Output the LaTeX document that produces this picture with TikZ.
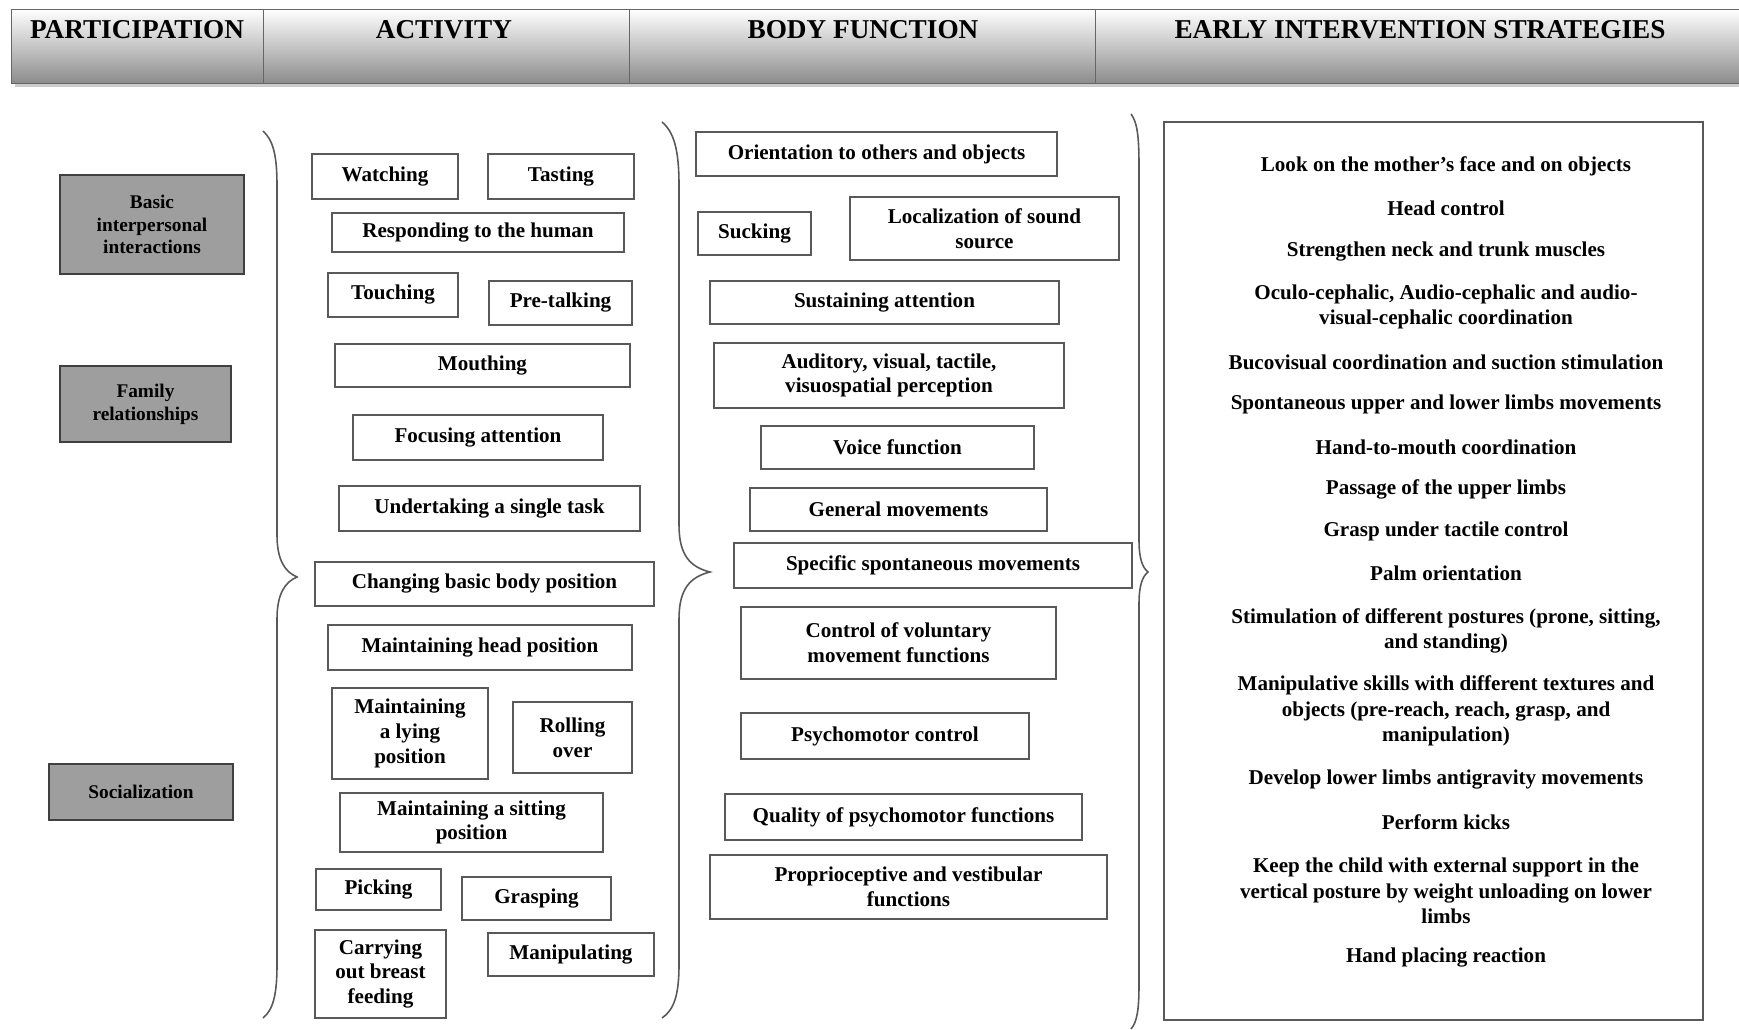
\documentclass[tikz,border=0pt]{standalone}
\usepackage{fontspec}
\setmainfont{Liberation Serif}
\begin{document}
\begin{tikzpicture}[x=0.02cm,y=-0.02cm,
			actbox/.style={draw=black!65, line width=0.8pt, align=center, inner sep=2pt, font=\bfseries\fontsize{12}{14}\selectfont},
			grpbox/.style={draw=black!75, fill=black!38, line width=1pt, align=center, font=\bfseries\fontsize{11}{13}\selectfont},
			hdr/.style={font=\bfseries\fontsize{15.5}{18}\selectfont},
			strat/.style={align=center, font=\bfseries\fontsize{12}{14.5}\selectfont},
			brace/.style={draw=black!65, line width=0.9pt}
		]
		\useasboundingbox (0,0) rectangle (1739,1030);

		\fill[black!20] (15,13) rectangle (1739,87);
		\path[top color=white, bottom color=black!45, draw=black!60] (11,9) rectangle (1739,83);
		\draw[black!60] (263,9) -- (263,83);
		\draw[black!60] (629,9) -- (629,83);
		\draw[black!60] (1095,9) -- (1095,83);
		\node[hdr] (hdrpart) at (137,30) {PARTICIPATION};
		\node[hdr] (hdract) at (444,30) {ACTIVITY};
		\node[hdr] (hdrbody) at (863,30) {BODY FUNCTION};
		\node[hdr] (hdrstrat) at (1420,30) {EARLY INTERVENTION STRATEGIES};

		\node[grpbox, minimum width=3.68cm, minimum height=1.98cm] (basic) at (152,224.5) {Basic\\interpersonal\\interactions};
		\node[grpbox, minimum width=3.42cm, minimum height=1.52cm] (family) at (145.5,404) {Family\\relationships};
		\node[grpbox, minimum width=3.68cm, minimum height=1.12cm] (social) at (141,792) {Socialization};

		\draw[brace] (263,131) .. controls (273,140) and (277,155) .. (277,185) -- (277,535) .. controls (277,560) and (285,572) .. (297,577) .. controls (285,582) and (277,594) .. (277,619) -- (277,965) .. controls (277,995) and (273,1010) .. (263,1018);
		\draw[brace] (662,122) .. controls (674,132) and (679,150) .. (679,185) -- (679,525) .. controls (679,555) and (690,567) .. (710,572) .. controls (690,577) and (679,589) .. (679,619) -- (679,965) .. controls (679,995) and (674,1010) .. (662,1018);
		\draw[brace] (1131,114) .. controls (1137,122) and (1139,135) .. (1139,165) -- (1139,540) .. controls (1139,560) and (1143,568) .. (1148,572) .. controls (1143,576) and (1139,584) .. (1139,604) -- (1139,985) .. controls (1139,1010) and (1137,1022) .. (1131,1029);

		\node[actbox, minimum width=2.92cm, minimum height=0.9cm] (watching) at (385,176.5) {Watching};
		\node[actbox, minimum width=2.92cm, minimum height=0.9cm] (tasting) at (561,176.5) {Tasting};
		\node[actbox, minimum width=5.84cm, minimum height=0.78cm] (responding) at (478,232.5) {Responding to the human};
		\node[actbox, minimum width=2.6cm, minimum height=0.88cm] (touching) at (393,295) {Touching};
		\node[actbox, minimum width=2.86cm, minimum height=0.88cm] (pretalking) at (560.5,303) {Pre-talking};
		\node[actbox, minimum width=5.9cm, minimum height=0.86cm] (mouthing) at (482.5,365.5) {Mouthing};
		\node[actbox, minimum width=5.0cm, minimum height=0.9cm] (focusing) at (478,437.5) {Focusing attention};
		\node[actbox, minimum width=6.02cm, minimum height=0.9cm] (undertaking) at (489.5,508.5) {Undertaking a single task};
		\node[actbox, minimum width=6.78cm, minimum height=0.88cm] (changing) at (484.5,584) {Changing basic body position};
		\node[actbox, minimum width=6.08cm, minimum height=0.9cm] (headpos) at (480,647.5) {Maintaining head position};
		\node[actbox, minimum width=3.12cm, minimum height=1.82cm] (lying) at (410,733.5) {Maintaining\\a lying\\position};
		\node[actbox, minimum width=2.38cm, minimum height=1.42cm] (rolling) at (572.5,737.5) {Rolling\\over};
		\node[actbox, minimum width=5.26cm, minimum height=1.18cm] (sitting) at (471.5,822.5) {Maintaining a sitting\\position};
		\node[actbox, minimum width=2.5cm, minimum height=0.82cm] (picking) at (378.5,889.5) {Picking};
		\node[actbox, minimum width=2.98cm, minimum height=0.86cm] (grasping) at (536.5,898.5) {Grasping};
		\node[actbox, minimum width=2.62cm, minimum height=1.76cm] (carrying) at (380.5,974) {Carrying\\out breast\\feeding};
		\node[actbox, minimum width=3.32cm, minimum height=0.86cm] (manipulating) at (571,954.5) {Manipulating};

		\node[actbox, minimum width=7.22cm, minimum height=0.88cm] (orient) at (876.5,154) {Orientation to others and objects};
		\node[actbox, minimum width=2.26cm, minimum height=0.86cm] (sucking) at (754.5,233.5) {Sucking};
		\node[actbox, minimum width=5.38cm, minimum height=1.26cm] (localize) at (984.5,228.5) {Localization of sound\\source};
		\node[actbox, minimum width=6.98cm, minimum height=0.86cm] (sustain) at (884.5,302.5) {Sustaining attention};
		\node[actbox, minimum width=7.0cm, minimum height=1.3cm] (percept) at (889,375.5) {Auditory, visual, tactile,\\visuospatial perception};
		\node[actbox, minimum width=5.46cm, minimum height=0.86cm] (voice) at (897.5,447.5) {Voice function};
		\node[actbox, minimum width=5.94cm, minimum height=0.86cm] (general) at (898.5,509.5) {General movements};
		\node[actbox, minimum width=7.96cm, minimum height=0.9cm] (specific) at (933,565.5) {Specific spontaneous movements};
		\node[actbox, minimum width=6.3cm, minimum height=1.44cm] (voluntary) at (898.5,643) {Control of voluntary\\movement functions};
		\node[actbox, minimum width=5.76cm, minimum height=0.92cm] (psycho) at (885,736) {Psychomotor control};
		\node[actbox, minimum width=7.14cm, minimum height=0.92cm] (quality) at (903.5,817) {Quality of psychomotor functions};
		\node[actbox, minimum width=7.94cm, minimum height=1.28cm] (proprio) at (908.5,887) {Proprioceptive and vestibular\\functions};

		\node[draw=black!65, line width=1pt, minimum width=10.78cm, minimum height=17.96cm] (stratbox) at (1433.5,571) {};
		\node[strat] (s1) at (1446,166) {Look on the mother's face and on objects};
		\node[strat] (s2) at (1446,208) {Head control};
		\node[strat] (s3) at (1446,252) {Strengthen neck and trunk muscles};
		\node[strat] (s4) at (1446,307) {Oculo-cephalic, Audio-cephalic and audio-\\visual-cephalic coordination};
		\node[strat] (s5) at (1446,362) {Bucovisual coordination and suction stimulation};
		\node[strat] (s6) at (1446,404) {Spontaneous upper and lower limbs movements};
		\node[strat] (s7) at (1446,447) {Hand-to-mouth coordination};
		\node[strat] (s8) at (1446,489) {Passage of the upper limbs};
		\node[strat] (s9) at (1446,531) {Grasp under tactile control};
		\node[strat] (s10) at (1446,573) {Palm orientation};
		\node[strat] (s11) at (1446,631) {Stimulation of different postures (prone, sitting,\\and standing)};
		\node[strat] (s12) at (1446,711) {Manipulative skills with different textures and\\objects (pre-reach, reach, grasp, and\\manipulation)};
		\node[strat] (s13) at (1446,780) {Develop lower limbs antigravity movements};
		\node[strat] (s14) at (1446,822) {Perform kicks};
		\node[strat] (s15) at (1446,891) {Keep the child with external support in the\\vertical posture by weight unloading on lower\\limbs};
		\node[strat] (s16) at (1446,958) {Hand placing reaction};
	\end{tikzpicture}
\end{document}
